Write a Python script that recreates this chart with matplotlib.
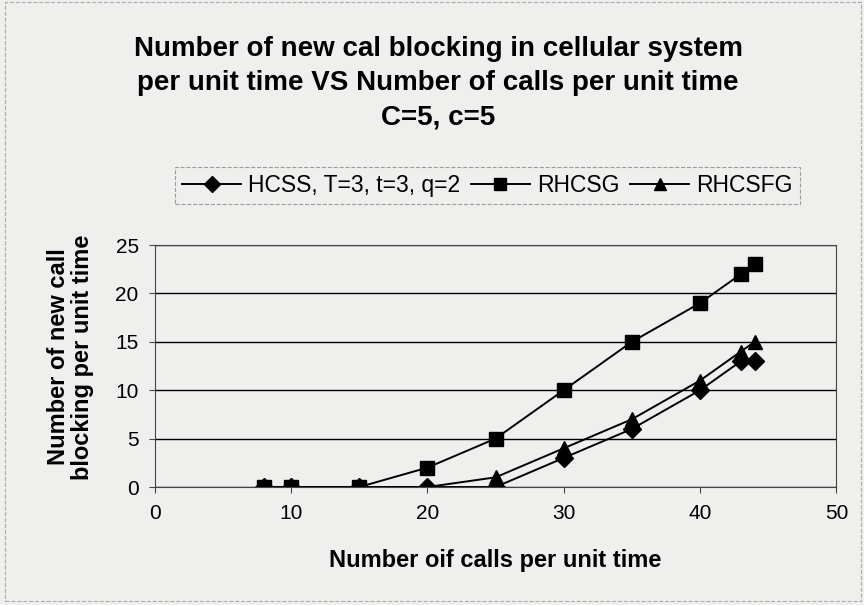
import matplotlib
matplotlib.use("Agg")
import matplotlib.pyplot as plt

# data
calls = [8, 10, 15, 20, 25, 30, 35, 40, 43, 44]
hcss = [0, 0, 0, 0, 0, 3, 6, 10, 13, 13]
rhcsg = [0, 0, 0, 2, 5, 10, 15, 19, 22, 23]
rhcsfg = [0, 0, 0, 0, 1, 4, 7, 11, 14, 15]

title = "Number of new cal blocking in cellular system\nper unit time VS Number of calls per unit time\nC=5, c=5"
labels = ["HCSS, T=3, t=3, q=2", "RHCSG", "RHCSFG"]

plt.rcParams['font.family'] = ['Liberation Sans', 'DejaVu Sans']
bg = '#efefed'

fig = plt.figure(figsize=(8.64, 6.05), dpi=100, facecolor=bg)
ax = fig.add_axes([0.179, 0.195, 0.789, 0.40])
ax.set_facecolor(bg)

ax.plot(calls, hcss, color='black', lw=1.4, marker='D', ms=9, label=labels[0])
ax.plot(calls, rhcsg, color='black', lw=1.4, marker='s', ms=10.5, label=labels[1])
ax.plot(calls, rhcsfg, color='black', lw=1.4, marker='^', ms=10.5, label=labels[2])

ax.set_xlim(0, 50)
ax.set_ylim(0, 25)
ax.set_xticks(range(0, 51, 10))
ax.set_yticks(range(0, 26, 5))
ax.yaxis.grid(True, color='black', lw=1)
ax.set_axisbelow(True)
for s in ax.spines.values():
    s.set_color('#444444')
ax.tick_params(labelsize=15, length=4.5, color='#444444')
ax.tick_params(axis='x', pad=8)
ax.tick_params(axis='y', pad=7)

fig.text(0.573, 0.074, "Number oif calls per unit time", ha='center', va='center',
         fontsize=17, fontweight='bold')
fig.text(0.082, 0.41, "Number of new call\nblocking per unit time", ha='center', va='center',
         rotation=90, fontsize=17, fontweight='bold', linespacing=1.05)

fig.text(0.507, 0.94, title, ha='center', va='top', fontsize=20,
         fontweight='bold', linespacing=1.4)

leg = fig.legend(loc='center', bbox_to_anchor=(0.564, 0.694), ncol=3, fontsize=16.5,
                 frameon=True, fancybox=False, edgecolor='#888888', facecolor=bg,
                 handlelength=2.6, columnspacing=0.45, handletextpad=0.3, borderpad=0.3)
leg.get_frame().set_linewidth(0.8)
leg.get_frame().set_linestyle('--')
for h in leg.legend_handles:
    h.set_markersize(8.5)

fig.patches.append(plt.Rectangle((0.006, 0.006), 0.99, 0.99, transform=fig.transFigure,
                                 fill=False, edgecolor='#aaaaaa', lw=0.8, ls='--'))

fig.savefig("out.png", dpi=100, facecolor=bg)
